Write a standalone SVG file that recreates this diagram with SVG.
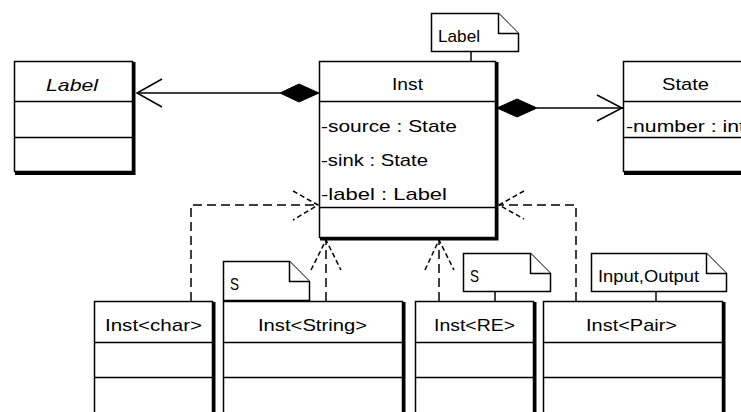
<svg xmlns="http://www.w3.org/2000/svg" width="741" height="412" viewBox="0 0 741 412">
  <style>
    .box { fill: #fff; stroke: #000; stroke-width: 1.5; }
    .shadow { fill: none; stroke: #000; stroke-width: 3; }
    .sep { stroke: #000; stroke-width: 1.5; }
    .note { fill: #fff; stroke: #000; stroke-width: 1.5; stroke-linejoin: miter; }
    .t { font-family: "Liberation Sans", Arial, sans-serif; font-size: 17px; fill: #000; }
    .it { font-style: italic; }
    .solid { fill: none; stroke: #000; stroke-width: 1.5; }
    .dash { fill: none; stroke: #000; stroke-width: 1.5; stroke-dasharray: 9 5; }
    .dhead { fill: none; stroke: #000; stroke-width: 1.5; stroke-dasharray: 5 3; }
    .diamond { fill: #000; stroke: #000; stroke-width: 1; }
  </style>

  <rect width="741" height="412" fill="#fff"/>

  <!-- connectors -->
  <g id="connectors">
    <!-- Inst owns label : Label -->
    <line class="solid" x1="280" y1="93" x2="137" y2="93"/>
    <polygon class="diamond" points="319,93 299,84 280,93 299,102"/>
    <polyline class="solid" points="162,79 137,93 162,107"/>
    <!-- Inst owns State -->
    <line class="solid" x1="537" y1="108" x2="623" y2="108"/>
    <polygon class="diamond" points="497,108 517,99 537,108 517,117"/>
    <polyline class="solid" points="597,95 622,108 597,121"/>
    <!-- Inst<char> -> Inst -->
    <path class="dash" d="M191,301 V205 H318"/>
    <polyline class="dhead" points="293,191 318,205 293,220"/>
    <!-- Inst<String> -> Inst -->
    <path class="dash" d="M326,301 V240"/>
    <polyline class="dhead" points="311,270 326,240 341,270"/>
    <!-- Inst<RE> -> Inst -->
    <path class="dash" d="M439,301 V240"/>
    <polyline class="dhead" points="425,270 439,240 454,270"/>
    <!-- Inst<Pair> -> Inst -->
    <path class="dash" d="M576,301 V205 H499"/>
    <polyline class="dhead" points="524,191 499,205 524,219"/>
    <!-- note anchors -->
    <line class="solid" x1="471" y1="51" x2="471" y2="61"/>
    <line class="solid" x1="495" y1="291" x2="495" y2="301"/>
    <line class="solid" x1="656" y1="291" x2="656" y2="301"/>
  </g>

  <!-- abstract class Label -->
  <g id="label-class">
    <rect class="box" x="14.5" y="61.5" width="118" height="110"/>
    <path class="shadow" d="M134,62 V173.5 H15"/>
    <line class="sep" x1="14.5" y1="101.5" x2="132.5" y2="101.5"/>
    <line class="sep" x1="14.5" y1="137.5" x2="132.5" y2="137.5"/>
    <text class="t it" x="46" y="91" textLength="52" lengthAdjust="spacingAndGlyphs">Label</text>
  </g>

  <!-- class Inst -->
  <g id="inst">
    <rect class="box" x="319.5" y="61.5" width="176" height="176"/>
    <path class="shadow" d="M497,62 V239 H320"/>
    <line class="sep" x1="319.5" y1="101.5" x2="495.5" y2="101.5"/>
    <line class="sep" x1="319.5" y1="207.5" x2="495.5" y2="207.5"/>
    <text class="t" x="392" y="90" textLength="31" lengthAdjust="spacingAndGlyphs">Inst</text>
    <text class="t" x="321" y="132" textLength="136" lengthAdjust="spacingAndGlyphs">-source : State</text>
    <text class="t" x="321" y="166" textLength="107" lengthAdjust="spacingAndGlyphs">-sink : State</text>
    <text class="t" x="321" y="200" textLength="126" lengthAdjust="spacingAndGlyphs">-label : Label</text>
  </g>

  <!-- template parameter note of Inst -->
  <g id="note-inst">
    <polygon class="note" points="431.5,13.5 498.5,13.5 518.5,33.5 518.5,51.5 431.5,51.5"/>
    <polyline class="note" points="498.5,13.5 498.5,33.5 518.5,33.5"/>
    <text class="t" x="438" y="42" textLength="42" lengthAdjust="spacingAndGlyphs">Label</text>
  </g>

  <!-- class State -->
  <g id="state">
    <rect class="box" x="623.5" y="61.5" width="140" height="110"/>
    <path class="shadow" d="M624,173.5 H745"/>
    <line class="sep" x1="623.5" y1="101.5" x2="745" y2="101.5"/>
    <line class="sep" x1="623.5" y1="137.5" x2="745" y2="137.5"/>
    <text class="t" x="662" y="90" textLength="47" lengthAdjust="spacingAndGlyphs">State</text>
    <text class="t" x="626" y="132" textLength="119" lengthAdjust="spacingAndGlyphs">-number : int</text>
  </g>

  <!-- Inst<char> -->
  <g id="inst-char">
    <rect class="box" x="94.5" y="301.5" width="118" height="140"/>
    <path class="shadow" d="M214,302 V450"/>
    <line class="sep" x1="94.5" y1="342.5" x2="212.5" y2="342.5"/>
    <line class="sep" x1="94.5" y1="377.5" x2="212.5" y2="377.5"/>
    <text class="t" x="105" y="331" textLength="97" lengthAdjust="spacingAndGlyphs">Inst&lt;char&gt;</text>
  </g>

  <!-- Inst<String> -->
  <g id="inst-string">
    <rect class="box" x="223.5" y="301.5" width="179" height="140"/>
    <path class="shadow" d="M404,302 V450"/>
    <line class="sep" x1="223.5" y1="342.5" x2="402.5" y2="342.5"/>
    <line class="sep" x1="223.5" y1="377.5" x2="402.5" y2="377.5"/>
    <text class="t" x="258" y="331" textLength="109" lengthAdjust="spacingAndGlyphs">Inst&lt;String&gt;</text>
  </g>

  <g id="note-string">
    <polygon class="note" points="223.5,261.5 289.5,261.5 309.5,281.5 309.5,300.5 223.5,300.5"/>
    <polyline class="note" points="289.5,261.5 289.5,281.5 309.5,281.5"/>
    <text class="t" x="230" y="290" textLength="9" lengthAdjust="spacingAndGlyphs">S</text>
  </g>

  <!-- Inst<RE> -->
  <g id="inst-re">
    <rect class="box" x="415.5" y="301.5" width="118" height="140"/>
    <path class="shadow" d="M535,302 V450"/>
    <line class="sep" x1="415.5" y1="342.5" x2="533.5" y2="342.5"/>
    <line class="sep" x1="415.5" y1="377.5" x2="533.5" y2="377.5"/>
    <text class="t" x="434" y="331" textLength="81" lengthAdjust="spacingAndGlyphs">Inst&lt;RE&gt;</text>
  </g>

  <g id="note-re">
    <polygon class="note" points="463.5,253.5 530.5,253.5 550.5,273.5 550.5,291.5 463.5,291.5"/>
    <polyline class="note" points="530.5,253.5 530.5,273.5 550.5,273.5"/>
    <text class="t" x="470" y="282" textLength="9" lengthAdjust="spacingAndGlyphs">S</text>
  </g>

  <!-- Inst<Pair> -->
  <g id="inst-pair">
    <rect class="box" x="543.5" y="301.5" width="179" height="140"/>
    <path class="shadow" d="M724,302 V450"/>
    <line class="sep" x1="543.5" y1="342.5" x2="722.5" y2="342.5"/>
    <line class="sep" x1="543.5" y1="377.5" x2="722.5" y2="377.5"/>
    <text class="t" x="586" y="331" textLength="91" lengthAdjust="spacingAndGlyphs">Inst&lt;Pair&gt;</text>
  </g>

  <g id="note-pair">
    <polygon class="note" points="591.5,253.5 706.5,253.5 726.5,273.5 726.5,291.5 591.5,291.5"/>
    <polyline class="note" points="706.5,253.5 706.5,273.5 726.5,273.5"/>
    <text class="t" x="598" y="282" textLength="101" lengthAdjust="spacingAndGlyphs">Input,Output</text>
  </g>
</svg>
